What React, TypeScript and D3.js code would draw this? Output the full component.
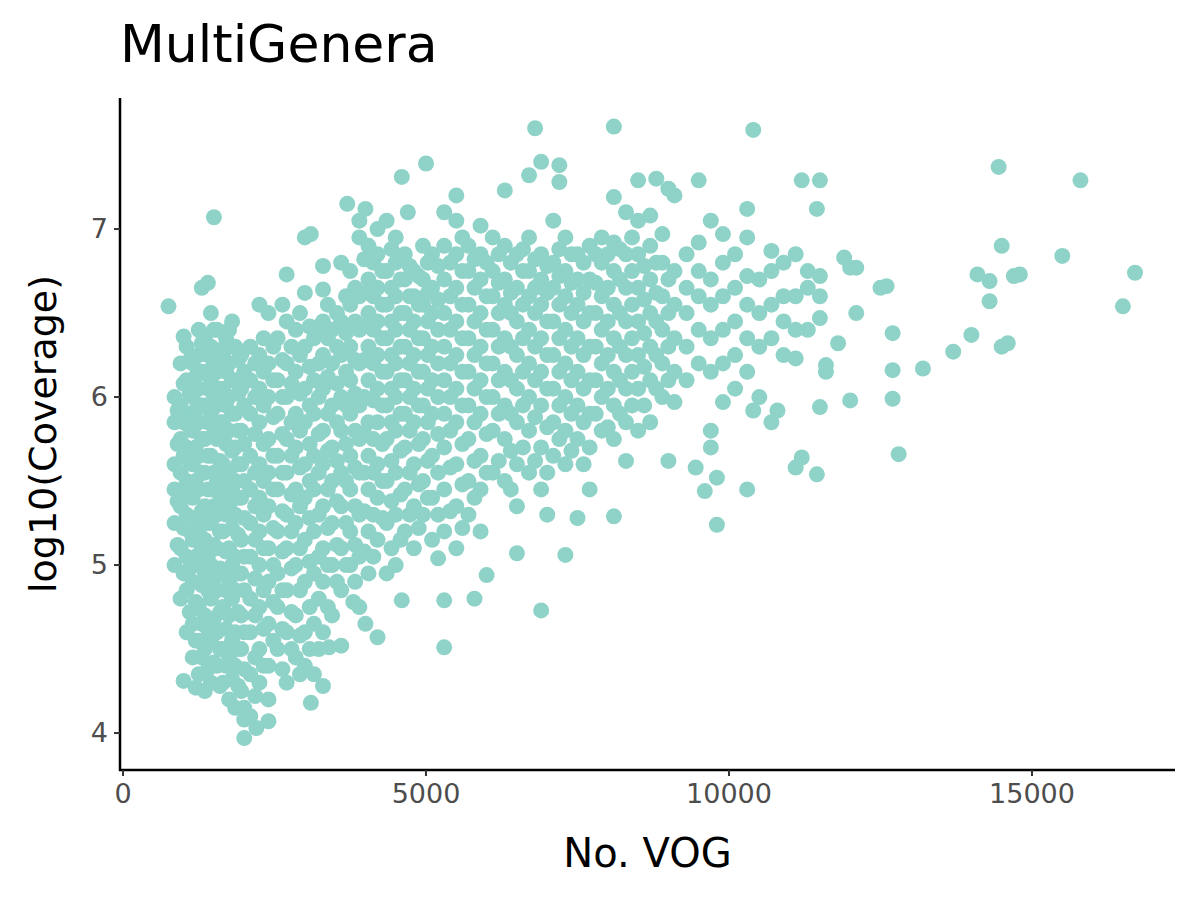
import * as d3 from "d3";

// x positions (No. VOG) of the dense columns and their log10 coverage values
const columnVog = [
  850, 950, 1050, 1150, 1250, 1350, 1450, 1550, 1650, 1750, 1850, 1950, 2100, 2250, 2400, 2550, 2700, 2850, 3000,
  3150, 3300, 3450, 3600, 3750, 3900, 4050, 4200, 4350, 4500, 4650, 4800, 4950, 5100, 5300, 5500, 5700, 5900, 6100,
  6300, 6500, 6700, 6900, 7100, 7300, 7500, 7700, 7900, 8100, 8300, 8500, 8700, 8900, 9100, 9300, 9500, 9700, 9900,
  10100, 10300, 10500, 10700, 10900, 11100, 11300, 11500,
];
const columnCoverage = [
  [5.0, 5.25, 5.45, 5.6, 5.85, 6.0],
  [4.8, 5.1, 5.35, 5.55, 5.75, 5.95, 6.2],
  [4.6, 4.85, 5.05, 5.3, 5.5, 5.7, 5.9, 6.1, 6.3],
  [4.45, 4.65, 4.9, 5.15, 5.4, 5.6, 5.8, 6.0, 6.2],
  [4.35, 4.55, 4.75, 5.0, 5.2, 5.45, 5.65, 5.85, 6.05, 6.25, 6.4],
  [4.25, 4.5, 4.7, 4.95, 5.15, 5.35, 5.55, 5.75, 5.95, 6.15, 6.35],
  [4.3, 4.55, 4.8, 5.0, 5.25, 5.45, 5.65, 5.9, 6.1, 6.3, 6.5],
  [4.4, 4.6, 4.85, 5.1, 5.3, 5.5, 5.75, 5.95, 6.15, 6.4],
  [4.3, 4.5, 4.75, 4.95, 5.2, 5.4, 5.6, 5.85, 6.05, 6.25],
  [4.2, 4.45, 4.7, 4.9, 5.1, 5.35, 5.55, 5.8, 6.0, 6.2, 6.4],
  [4.15, 4.4, 4.6, 4.85, 5.05, 5.3, 5.5, 5.7, 5.9, 6.1, 6.3],
  [4.25, 4.5, 4.7, 4.95, 5.15, 5.4, 5.6, 5.8, 6.05, 6.25],
  [4.1, 4.35, 4.6, 4.8, 5.05, 5.25, 5.45, 5.65, 5.9, 6.1, 6.3],
  [4.3, 4.5, 4.75, 5.0, 5.2, 5.4, 5.6, 5.85, 6.05, 6.25, 6.55],
  [4.4, 4.65, 4.9, 5.1, 5.35, 5.55, 5.75, 6.0, 6.2, 6.5],
  [4.5, 4.75, 4.95, 5.2, 5.45, 5.65, 5.9, 6.1, 6.35],
  [4.3, 4.6, 4.85, 5.1, 5.3, 5.55, 5.75, 6.0, 6.2, 6.45, 6.73],
  [4.45, 4.7, 5.0, 5.25, 5.45, 5.7, 5.9, 6.15, 6.4],
  [4.4, 4.6, 4.9, 5.15, 5.4, 5.6, 5.85, 6.05, 6.3, 6.62],
  [4.35, 4.65, 4.95, 5.2, 5.45, 5.65, 5.9, 6.1, 6.35],
  [4.6, 4.9, 5.1, 5.35, 5.6, 5.8, 6.05, 6.25, 6.45, 6.64],
  [4.7, 5.0, 5.25, 5.5, 5.7, 5.95, 6.2, 6.4],
  [4.85, 5.1, 5.35, 5.55, 5.8, 6.0, 6.25, 6.45, 6.8],
  [5.0, 5.2, 5.45, 5.65, 5.9, 6.1, 6.3, 6.55, 6.75],
  [4.75, 5.05, 5.3, 5.55, 5.75, 5.95, 6.2, 6.4, 6.6, 6.95, 7.05],
  [4.95, 5.2, 5.45, 5.65, 5.85, 6.1, 6.3, 6.5, 6.7, 6.9],
  [5.15, 5.4, 5.6, 5.85, 6.05, 6.25, 6.45, 6.65, 6.85, 7.0],
  [4.95, 5.25, 5.5, 5.75, 5.95, 6.15, 6.35, 6.55, 6.75, 7.05],
  [5.0, 5.3, 5.55, 5.8, 6.0, 6.2, 6.4, 6.6, 6.8, 6.95],
  [5.2, 5.45, 5.7, 5.9, 6.1, 6.3, 6.5, 6.7, 6.85],
  [5.1, 5.35, 5.6, 5.85, 6.05, 6.25, 6.45, 6.6, 6.75],
  [5.3, 5.5, 5.75, 5.95, 6.15, 6.35, 6.55, 6.7, 6.9],
  [5.15, 5.4, 5.65, 5.9, 6.1, 6.3, 6.5, 6.65, 6.85],
  [5.2, 5.45, 5.7, 5.9, 6.1, 6.3, 6.5, 6.7, 6.9, 7.1],
  [5.1, 5.35, 5.6, 5.85, 6.05, 6.25, 6.45, 6.65, 6.85, 7.05],
  [5.3, 5.5, 5.75, 5.95, 6.15, 6.35, 6.55, 6.75, 6.9],
  [5.2, 5.45, 5.65, 5.9, 6.1, 6.3, 6.5, 6.7, 6.85, 7.02],
  [5.55, 5.8, 6.0, 6.2, 6.4, 6.6, 6.75, 6.95],
  [5.5, 5.75, 5.95, 6.15, 6.35, 6.55, 6.7, 6.9, 7.23],
  [5.35, 5.6, 5.85, 6.05, 6.25, 6.45, 6.65, 6.85],
  [5.55, 5.8, 6.0, 6.2, 6.4, 6.6, 6.75, 6.95, 7.32],
  [5.45, 5.7, 5.95, 6.15, 6.35, 6.55, 6.7, 6.85],
  [5.65, 5.85, 6.05, 6.25, 6.45, 6.65, 6.8, 7.05],
  [5.6, 5.8, 6.0, 6.2, 6.4, 6.6, 6.75, 6.95],
  [5.75, 5.95, 6.15, 6.35, 6.55, 6.7, 6.85],
  [5.45, 5.7, 5.9, 6.1, 6.3, 6.5, 6.7, 6.9],
  [5.8, 6.0, 6.2, 6.4, 6.6, 6.8, 6.95],
  [5.75, 5.95, 6.15, 6.35, 6.55, 6.75, 6.92, 7.19],
  [5.62, 5.85, 6.05, 6.25, 6.45, 6.65, 6.85, 7.1],
  [5.8, 6.05, 6.25, 6.45, 6.65, 6.85, 7.05],
  [5.85, 6.1, 6.3, 6.5, 6.7, 6.9, 7.08],
  [6.0, 6.2, 6.4, 6.6, 6.8, 6.97],
  [5.97, 6.15, 6.35, 6.55, 6.75, 7.2],
  [6.1, 6.3, 6.5, 6.65, 6.85],
  [6.2, 6.4, 6.6, 6.75, 6.92],
  [5.7, 6.15, 6.35, 6.55, 6.7, 7.05],
  [5.97, 6.2, 6.4, 6.6, 6.8, 6.97],
  [6.05, 6.25, 6.45, 6.65, 6.85],
  [6.15, 6.35, 6.55, 6.72, 6.95, 7.12],
  [6.0, 6.3, 6.5, 6.7],
  [6.35, 6.55, 6.75, 6.87],
  [6.25, 6.45, 6.6, 6.8],
  [6.23, 6.4, 6.6, 6.85],
  [6.4, 6.65, 6.75],
  [6.47, 6.6, 6.72],
];

// second, staggered set of columns filling the dense cloud between the first
const fillVog = [
  900, 1000, 1100, 1200, 1300, 1400, 1500, 1600, 1700, 1800, 1900, 2000, 2180, 2320, 2480, 2630, 2780, 2920, 3080,
  3230, 3380, 3530, 3680, 3830, 3980, 4130, 4280, 4430, 4580, 4730, 4880, 5030, 5200, 5400, 5600, 5800, 6000, 6200,
  6400, 6600, 6800, 7000, 7200, 7400, 7600, 7800, 8000, 8200, 8400, 8600, 8800, 9000,
];
const fillCoverage = [
  [5.12, 5.38, 5.72, 5.92],
  [4.95, 5.22, 5.45, 5.65, 5.85, 6.08],
  [4.72, 4.98, 5.2, 5.42, 5.62, 5.82, 6.02, 6.22],
  [4.55, 4.78, 5.05, 5.28, 5.5, 5.7, 5.92, 6.12],
  [4.45, 4.65, 4.88, 5.1, 5.32, 5.55, 5.75, 5.95, 6.15, 6.32],
  [4.38, 4.62, 4.85, 5.05, 5.25, 5.45, 5.65, 5.85, 6.05, 6.25],
  [4.42, 4.68, 4.92, 5.12, 5.35, 5.55, 5.78, 6.0, 6.2, 6.4],
  [4.28, 4.5, 4.72, 4.98, 5.2, 5.42, 5.62, 5.85, 6.05, 6.28],
  [4.4, 4.62, 4.85, 5.08, 5.3, 5.5, 5.72, 5.95, 6.15, 6.35],
  [4.32, 4.55, 4.8, 5.0, 5.22, 5.45, 5.68, 5.9, 6.1, 6.3],
  [4.28, 4.5, 4.72, 4.95, 5.18, 5.4, 5.6, 5.8, 6.02, 6.22],
  [4.15, 4.38, 4.6, 4.85, 5.05, 5.28, 5.5, 5.72, 5.95, 6.15],
  [4.22, 4.45, 4.7, 4.92, 5.15, 5.35, 5.55, 5.78, 6.0, 6.2],
  [4.4, 4.62, 4.85, 5.1, 5.3, 5.5, 5.72, 5.95, 6.15, 6.35],
  [4.55, 4.78, 5.0, 5.22, 5.45, 5.65, 5.88, 6.1, 6.3],
  [4.38, 4.62, 4.85, 5.08, 5.32, 5.55, 5.78, 6.0, 6.22, 6.55],
  [4.5, 4.72, 4.98, 5.2, 5.42, 5.65, 5.85, 6.08, 6.3],
  [4.35, 4.58, 4.85, 5.1, 5.35, 5.58, 5.8, 6.02, 6.25, 6.5],
  [4.5, 4.75, 5.02, 5.28, 5.5, 5.72, 5.95, 6.18, 6.42],
  [4.5, 4.8, 5.05, 5.3, 5.55, 5.78, 6.0, 6.2, 6.42],
  [4.75, 5.0, 5.22, 5.45, 5.68, 5.9, 6.12, 6.35, 6.55],
  [4.9, 5.12, 5.38, 5.62, 5.85, 6.08, 6.3, 6.5],
  [5.0, 5.25, 5.5, 5.72, 5.95, 6.15, 6.38, 6.6],
  [4.9, 5.12, 5.35, 5.58, 5.8, 6.02, 6.22, 6.45, 6.65],
  [5.08, 5.32, 5.55, 5.78, 6.0, 6.22, 6.42, 6.62, 6.82],
  [5.05, 5.3, 5.55, 5.75, 5.98, 6.2, 6.4, 6.6, 6.8],
  [5.28, 5.5, 5.72, 5.95, 6.15, 6.35, 6.55, 6.75],
  [5.1, 5.38, 5.62, 5.85, 6.05, 6.25, 6.45, 6.65, 6.88],
  [5.15, 5.42, 5.68, 5.9, 6.1, 6.3, 6.5, 6.7],
  [5.3, 5.55, 5.8, 6.0, 6.2, 6.4, 6.6, 6.78],
  [5.22, 5.48, 5.72, 5.95, 6.15, 6.35, 6.55, 6.72],
  [5.4, 5.62, 5.85, 6.05, 6.25, 6.45, 6.62, 6.8],
  [5.3, 5.55, 5.78, 6.0, 6.2, 6.4, 6.58, 6.78],
  [5.32, 5.58, 5.8, 6.0, 6.2, 6.4, 6.6, 6.8],
  [5.22, 5.48, 5.72, 5.95, 6.15, 6.35, 6.55, 6.75, 6.95],
  [5.4, 5.62, 5.85, 6.05, 6.25, 6.45, 6.65, 6.82],
  [5.55, 5.78, 6.0, 6.2, 6.4, 6.6, 6.8],
  [5.62, 5.9, 6.1, 6.3, 6.5, 6.68, 6.85],
  [5.45, 5.68, 5.9, 6.1, 6.3, 6.5, 6.62, 6.8],
  [5.7, 5.95, 6.15, 6.35, 6.55, 6.75, 6.88],
  [5.62, 5.88, 6.1, 6.3, 6.5, 6.65, 6.82],
  [5.55, 5.82, 6.05, 6.25, 6.45, 6.62, 6.78],
  [5.75, 5.95, 6.15, 6.35, 6.55, 6.72, 6.88],
  [5.68, 5.9, 6.1, 6.3, 6.5, 6.68, 6.85],
  [5.6, 5.85, 6.05, 6.25, 6.45, 6.62, 6.8],
  [5.9, 6.1, 6.3, 6.5, 6.68, 6.85],
  [5.82, 6.05, 6.25, 6.45, 6.65, 6.85],
  [5.9, 6.1, 6.3, 6.5, 6.7, 6.88],
  [5.95, 6.15, 6.35, 6.55, 6.75, 6.95],
  [5.95, 6.18, 6.38, 6.58, 6.78],
  [6.05, 6.25, 6.45, 6.62, 6.8],
  [6.1, 6.3, 6.5, 6.7],
];

// scattered points outside the dense cloud
const outliers: [number, number][] = [
  [750, 6.54], [1000, 6.36], [1000, 4.31], [1200, 4.27], [1500, 7.07], [1400, 6.68], [1300, 6.65], [1800, 6.45],
  [2000, 3.97], [2200, 4.03], [2400, 4.07], [2400, 4.2], [2000, 4.08], [3100, 4.18], [3300, 4.28], [3300, 6.78],
  [3100, 6.97], [3000, 6.95], [3700, 7.15], [4000, 7.12], [4600, 7.31], [4700, 7.1], [5000, 7.39], [5500, 7.2],
  [6800, 7.6], [6900, 7.4], [7200, 7.38], [7200, 7.28], [8100, 7.61], [8500, 7.29], [8800, 7.3], [9000, 7.24],
  [9500, 7.29], [10400, 7.59], [11200, 7.29], [11500, 7.29], [11450, 7.12], [14450, 7.37], [15800, 7.29],
  [14500, 6.9], [15500, 6.84], [16700, 6.74], [16500, 6.54], [14800, 6.73], [14700, 6.72], [14600, 6.32],
  [14500, 6.3], [14300, 6.57], [14300, 6.69], [14100, 6.73], [14000, 6.37], [13700, 6.27], [13200, 6.17],
  [12700, 6.38], [12700, 6.16], [12700, 5.99], [12800, 5.66], [12500, 6.65], [12600, 6.66], [12100, 6.5],
  [12000, 6.77], [12100, 6.77], [11900, 6.83], [12000, 5.98], [11800, 6.32], [11600, 6.15], [11600, 6.19],
  [11500, 5.94], [11450, 5.54], [11200, 5.64], [11100, 5.58], [10800, 5.92], [10700, 5.85], [10400, 5.92],
  [10300, 5.45], [9800, 5.24], [9800, 5.52], [9700, 5.8], [9600, 5.44], [9450, 5.58], [9000, 5.62], [8100, 5.29],
  [7500, 5.28], [7000, 5.3], [7300, 5.06], [6900, 4.73], [6500, 5.07], [5800, 4.8], [5300, 4.79], [5300, 4.51],
  [4200, 4.57], [4000, 4.65], [3600, 4.52], [3400, 4.51], [3800, 4.78], [4600, 4.79], [5200, 5.04], [6000, 4.94],
];

const xTicks = [0, 5000, 10000, 15000];
const yTicks = [4, 5, 6, 7];

const width = 1200;
const height = 900;
const left = 120;
const right = 1175;
const top = 98;
const bottom = 770;
const font = "DejaVu Sans, sans-serif";

const App = () => {
  const toPoints = (xs: number[], ys: number[][]) =>
    xs.flatMap((x, i) => ys[i].map((y) => [x, y] as [number, number]));
  const points: [number, number][] = [
    ...toPoints(columnVog, columnCoverage),
    ...toPoints(fillVog, fillCoverage),
    ...outliers,
  ];

  const xScale = d3.scaleLinear().domain([-50, 17360]).range([left, right]);
  const yScale = d3.scaleLinear().domain([3.78, 7.78]).range([bottom, top]);

  return (
    <svg width={width} height={height} style={{ position: "absolute", left: 0, top: 0, background: "white" }}>
      <text x={left} y={62} fontFamily={font} fontSize={52}>MultiGenera</text>
      {points.map(([x, y], i) => (
        <circle key={i} cx={xScale(x)} cy={yScale(y)} r={8} fill="#8fd3c8" />
      ))}
      {/* axes */}
      <line x1={left} x2={left} y1={top} y2={bottom + 1} stroke="black" strokeWidth={2.5} />
      <line x1={left - 1} x2={right} y1={bottom} y2={bottom} stroke="black" strokeWidth={2.5} />
      {xTicks.map((t) => (
        <g key={t} transform={`translate(${xScale(t)},${bottom})`}>
          <line y2={6} stroke="#333" strokeWidth={2} />
          <text y={33} textAnchor="middle" fontFamily={font} fontSize={27} fill="#4d4d4d">{t}</text>
        </g>
      ))}
      {yTicks.map((t) => (
        <g key={t} transform={`translate(${left},${yScale(t)})`}>
          <line x2={-6} stroke="#333" strokeWidth={2} />
          <text x={-12} dy="0.35em" textAnchor="end" fontFamily={font} fontSize={27} fill="#4d4d4d">{t}</text>
        </g>
      ))}
      <text x={(left + right) / 2} y={867} textAnchor="middle" fontFamily={font} fontSize={40}>No. VOG</text>
      <text
        transform={`translate(56, ${(top + bottom) / 2}) rotate(-90)`}
        textAnchor="middle"
        fontFamily={font}
        fontSize={38}
      >
        log10(Coverage)
      </text>
    </svg>
  );
};

export default App;
